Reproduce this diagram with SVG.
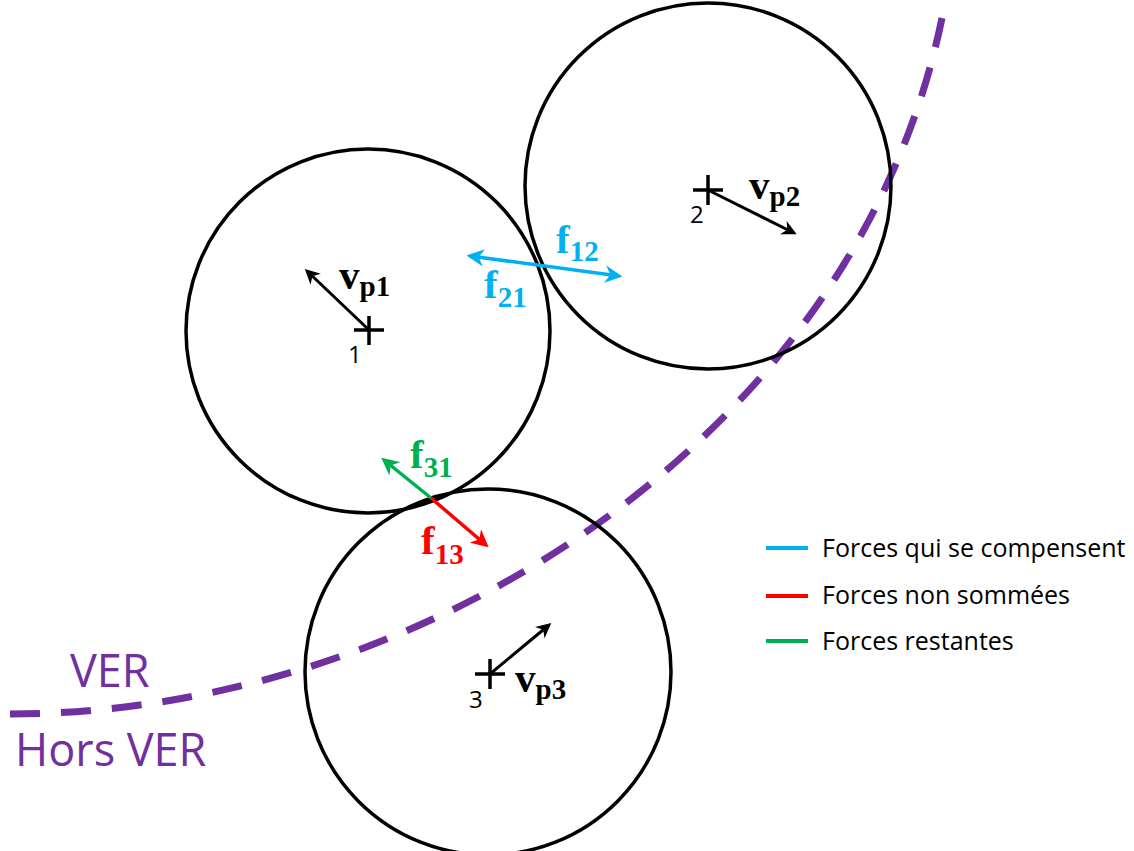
<svg xmlns="http://www.w3.org/2000/svg" width="1134" height="851" viewBox="0 0 1134 851">
<defs>
<style>
.circ{fill:none;stroke:#000;stroke-width:3.5}
.cross{stroke:#000;stroke-width:3.5}
.num{font-family:"Open Sans","Liberation Sans",sans-serif;font-size:24px;fill:#000}
.m{font-family:"Liberation Serif",serif;font-weight:bold;font-size:41px}
.s{font-size:29px}
.leg{font-family:"Open Sans","Liberation Sans",sans-serif;font-size:25px;fill:#000}
.ver{font-family:"Open Sans","Liberation Sans",sans-serif;font-size:45px;fill:#7030A0}
</style>
<marker id="ak" viewBox="0 0 10 10" refX="8" refY="5" markerWidth="5" markerHeight="5" orient="auto-start-reverse"><path d="M0,0 L10,5 L0,10 L3,5 Z" fill="#000"/></marker>
<marker id="ab" viewBox="0 0 10 10" refX="8" refY="5" markerWidth="5" markerHeight="5" orient="auto-start-reverse"><path d="M0,0 L10,5 L0,10 L3,5 Z" fill="#00B0F0"/></marker>
<marker id="ag" viewBox="0 0 10 10" refX="8" refY="5" markerWidth="5" markerHeight="5" orient="auto-start-reverse"><path d="M0,0 L10,5 L0,10 L3,5 Z" fill="#00B050"/></marker>
<marker id="ar" viewBox="0 0 10 10" refX="8" refY="5" markerWidth="5" markerHeight="5" orient="auto-start-reverse"><path d="M0,0 L10,5 L0,10 L3,5 Z" fill="#FF0000"/></marker>
</defs>
<rect width="1134" height="851" fill="#fff"/>
<g id="boundary">
<path d="M10,714 C420,714 855,440 942,18" fill="none" stroke="#7030A0" stroke-width="7" stroke-dasharray="30,21"/>
<text class="ver" x="70" y="687">VER</text>
<text class="ver" x="15" y="766">Hors VER</text>
</g>
<g id="particle1">
<circle class="circ" cx="368" cy="331" r="182"/>
<path class="cross" d="M354,330 H384 M369,316 V345"/>
<text class="num" x="348" y="363">1</text>
</g>
<g id="particle2">
<circle class="circ" cx="708" cy="186" r="183"/>
<path class="cross" d="M693,190 H723 M708,175 V205"/>
<text class="num" x="690" y="223">2</text>
</g>
<g id="particle3">
<circle class="circ" cx="488" cy="672" r="183"/>
<path class="cross" d="M475,674 H505 M490,659 V689"/>
<text class="num" x="469" y="708">3</text>
</g>
<g id="connectors">
<line x1="369" y1="330" x2="307" y2="271" stroke="#000" stroke-width="3" marker-end="url(#ak)"/>
<line x1="708" y1="190" x2="794" y2="233" stroke="#000" stroke-width="3" marker-end="url(#ak)"/>
<line x1="490" y1="674" x2="549" y2="625" stroke="#000" stroke-width="3" marker-end="url(#ak)"/>
<line x1="470" y1="256" x2="619" y2="276" stroke="#00B0F0" stroke-width="3.5" marker-start="url(#ab)" marker-end="url(#ab)"/>
<line x1="431" y1="498" x2="384" y2="460" stroke="#00B050" stroke-width="3.5" marker-end="url(#ag)"/>
<line x1="431" y1="498" x2="486" y2="545" stroke="#FF0000" stroke-width="3.5" marker-end="url(#ar)"/>
</g>
<g id="labels">
<text class="m" x="339" y="289" fill="#000">v<tspan class="s" dy="7">p1</tspan></text>
<text class="m" x="749" y="199" fill="#000">v<tspan class="s" dy="7">p2</tspan></text>
<text class="m" x="515" y="692" fill="#000">v<tspan class="s" dy="7">p3</tspan></text>
<text class="m" x="556" y="253" fill="#00B0F0">f<tspan class="s" dy="8">12</tspan></text>
<text class="m" x="484" y="298" fill="#00B0F0">f<tspan class="s" dy="9">21</tspan></text>
<text class="m" x="410" y="468" fill="#00B050">f<tspan class="s" dy="9">31</tspan></text>
<text class="m" x="421" y="554" fill="#FF0000">f<tspan class="s" dy="10">13</tspan></text>
</g>
<g id="legend">
<line x1="766" y1="548" x2="808" y2="548" stroke="#00B0F0" stroke-width="4"/>
<line x1="766" y1="596" x2="808" y2="596" stroke="#FF0000" stroke-width="4"/>
<line x1="766" y1="641" x2="808" y2="641" stroke="#00B050" stroke-width="4"/>
<text class="leg" x="822" y="557">Forces qui se compensent</text>
<text class="leg" x="822" y="604">Forces non sommées</text>
<text class="leg" x="822" y="650">Forces restantes</text>
</g>
</svg>
